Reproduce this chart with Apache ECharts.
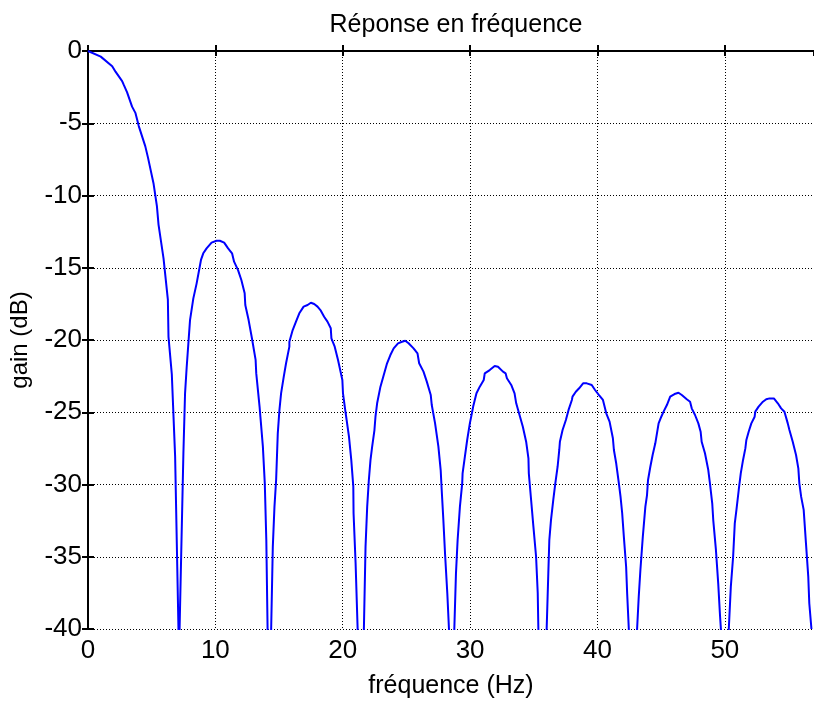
<!DOCTYPE html>
<html>
<head>
<meta charset="utf-8">
<script src="https://cdn.jsdelivr.net/npm/echarts@6/dist/echarts.min.js"></script>
<style>
  html, body { margin: 0; padding: 0; background: #fff; }
  #chart { width: 814px; height: 704px; }
</style>
</head>
<body>
<div id="chart"></div>
<script>
// Gain (dB) versus frequency (Hz), one array of [Hz, dB] points per lobe.
const mainLobe = [
  [0, 0], [0.13, 0], [1.0, -0.39], [1.9, -1.05], [2.16, -1.43], [2.68, -2.08],
  [2.81, -2.35], [3.07, -2.86], [3.46, -3.85], [3.72, -4.28], [3.98, -5.18],
  [4.5, -6.6], [4.71, -7.38], [5.15, -9.19], [5.41, -10.74], [5.54, -12.03],
  [5.93, -14.35], [6.27, -17.2], [6.32, -19.78], [6.58, -22.36], [6.84, -28.05],
  [7.1, -39.9]
];
const lobe1 = [
  [7.19, -40], [7.49, -27.84], [7.62, -23.69], [7.75, -21.85], [8.01, -18.62],
  [8.27, -17.12], [8.53, -16.08], [8.87, -14.46], [9.05, -14.0], [9.31, -13.66],
  [9.7, -13.26], [10.09, -13.13], [10.35, -13.13], [10.69, -13.26], [11.0, -13.66],
  [11.31, -14.0], [11.47, -14.58], [11.78, -15.16], [12.04, -15.85], [12.3, -16.77],
  [12.35, -17.58], [12.61, -18.62], [12.87, -19.88], [13.16, -21.38], [13.21, -22.31],
  [13.47, -24.61], [13.73, -27.38], [13.88, -29.92], [14.0, -33.84], [14.1, -40]
];
const lobe2 = [
  [14.38, -40], [14.51, -34.3], [14.64, -31.53], [14.77, -29.69], [14.9, -26.46],
  [15.03, -24.84], [15.16, -23.69], [15.37, -22.54], [15.55, -21.61], [15.81, -20.46],
  [15.81, -20.12], [16.07, -19.31], [16.33, -18.73], [16.59, -18.15], [16.93, -17.69],
  [17.24, -17.58], [17.5, -17.42], [17.76, -17.51], [18.02, -17.69], [18.28, -17.97],
  [18.54, -18.39], [18.8, -18.73], [19.06, -19.19], [19.11, -19.88], [19.37, -20.46],
  [19.63, -21.38], [19.97, -22.77], [20.02, -23.69], [20.23, -25.07], [20.49, -26.69],
  [20.67, -28.3], [20.83, -30.15], [20.85, -31.99], [21.01, -35.45], [21.17, -40]
];
const lobe3 = [
  [21.66, -40], [21.79, -34.3], [21.92, -31.53], [22.05, -29.69], [22.18, -28.3],
  [22.31, -27.38], [22.49, -26.23], [22.57, -25.31], [22.7, -24.38], [22.96, -23.23],
  [23.22, -22.42], [23.48, -21.61], [23.74, -21.04], [24.0, -20.58], [24.34, -20.23],
  [24.65, -20.12], [24.91, -20.05], [25.17, -20.23], [25.56, -20.58], [25.87, -20.92],
  [26.0, -21.61], [26.34, -22.19], [26.6, -22.88], [26.91, -23.81], [26.99, -24.5],
  [27.25, -25.77], [27.51, -27.38], [27.69, -29.0], [27.77, -30.38], [27.9, -32.46],
  [28.03, -34.76], [28.21, -37.53], [28.34, -40]
];
const lobe4 = [
  [28.76, -40], [28.89, -36.15], [29.02, -33.84], [29.2, -31.53], [29.38, -29.92],
  [29.41, -29.23], [29.59, -28.07], [29.77, -26.92], [29.98, -25.77], [30.19, -24.84],
  [30.24, -24.61], [30.5, -23.69], [30.76, -23.23], [31.07, -22.77], [31.15, -22.31],
  [31.54, -22.08], [31.93, -21.8], [32.19, -21.85], [32.58, -22.19], [32.79, -22.31],
  [32.89, -22.65], [33.23, -23.11], [33.49, -23.69], [33.62, -24.38], [33.88, -25.19],
  [34.14, -26.0], [34.4, -27.04], [34.58, -28.19], [34.61, -29.23], [34.79, -31.07],
  [34.97, -32.92], [35.18, -35.0], [35.31, -37.53], [35.36, -40]
];
const lobe5 = [
  [36.01, -40], [36.14, -36.15], [36.22, -33.84], [36.35, -32.46], [36.53, -31.07],
  [36.69, -29.92], [36.87, -28.77], [37.0, -27.61], [37.05, -27.04], [37.26, -26.23],
  [37.52, -25.54], [37.73, -24.84], [37.99, -24.15], [38.04, -23.92], [38.3, -23.58],
  [38.56, -23.34], [38.87, -23.0], [39.16, -23.0], [39.55, -23.11], [39.81, -23.46],
  [40.12, -23.81], [40.43, -24.15], [40.51, -24.27], [40.69, -25.07], [40.95, -25.65],
  [41.21, -26.8], [41.29, -27.61], [41.47, -28.53], [41.68, -29.92], [41.81, -30.84],
  [41.94, -31.99], [42.07, -33.61], [42.25, -35.69], [42.33, -37.53], [42.46, -40]
];
const lobe6 = [
  [43.11, -40], [43.24, -37.76], [43.37, -35.92], [43.56, -33.61], [43.76, -31.53],
  [43.89, -30.73], [43.97, -29.69], [44.15, -28.77], [44.33, -27.96], [44.54, -27.15],
  [44.67, -26.46], [44.8, -25.77], [45.01, -25.31], [45.19, -24.96], [45.45, -24.5],
  [45.71, -23.92], [46.05, -23.74], [46.36, -23.65], [46.62, -23.81], [47.01, -24.1],
  [47.27, -24.27], [47.4, -24.73], [47.66, -25.19], [47.92, -25.77], [48.1, -26.35],
  [48.18, -27.04], [48.44, -27.84], [48.7, -29.0], [48.83, -29.92], [49.01, -31.3],
  [49.09, -32.46], [49.3, -34.53], [49.48, -36.84], [49.61, -38.91], [49.69, -40]
];
const lobe7 = [
  [50.31, -40], [50.47, -37.07], [50.65, -35.0], [50.78, -32.69], [50.91, -31.76],
  [51.09, -30.38], [51.25, -29.23], [51.43, -28.3], [51.61, -27.5], [51.69, -26.92],
  [51.87, -26.35], [52.08, -25.77], [52.34, -25.31], [52.39, -24.96], [52.65, -24.61],
  [52.99, -24.27], [53.25, -24.1], [53.51, -24.04], [53.85, -24.04], [54.16, -24.38],
  [54.42, -24.73], [54.68, -24.96], [54.94, -25.77], [55.07, -26.23], [55.33, -27.04],
  [55.59, -27.96], [55.77, -28.88], [55.85, -29.92], [55.99, -30.84], [56.19, -31.76],
  [56.37, -34.07], [56.55, -36.38], [56.63, -38.22], [56.8, -40]
];
// Frequencies of the notches between lobes, where the gain falls far below the axis.
const notchFreqs = [7.15, 14.25, 21.4, 28.55, 35.68, 42.8, 50.0];
const notchGain = -70;

const xTicks = [0, 10, 20, 30, 40, 50];
const yTicks = [0, -5, -10, -15, -20, -25, -30, -35, -40];

const lobes = [mainLobe, lobe1, lobe2, lobe3, lobe4, lobe5, lobe6, lobe7];
const curve = [];
lobes.forEach((lobe, i) => {
  lobe.forEach(p => curve.push(p));
  if (i < notchFreqs.length) curve.push([notchFreqs[i], notchGain]);
});

const FONT = 'Liberation Sans, Arial, Helvetica, sans-serif';
const dotted = { type: [1, 2], color: '#000', width: 1 };

const chart = echarts.init(document.getElementById('chart'), null, { renderer: 'canvas' });
chart.setOption({
  animation: false,
  backgroundColor: '#fff',
  title: {
    text: 'Réponse en fréquence',
    left: 451, top: 8, textAlign: 'center',
    textStyle: { fontFamily: FONT, fontSize: 25, fontWeight: 'normal', color: '#000' }
  },
  grid: { left: 87, top: 51, bottom: 75, width: 731, containLabel: false },
  xAxis: [{
    type: 'value', min: 0, max: 57, interval: 10,
    name: 'fréquence (Hz)', nameLocation: 'middle', nameGap: 45,
    nameTextStyle: { fontFamily: FONT, fontSize: 25, color: '#000' },
    axisLine: { lineStyle: { color: '#000', width: 2 } },
    axisTick: { inside: true, length: 6, lineStyle: { color: '#000', width: 2 } },
    axisLabel: {
      fontFamily: FONT, fontSize: 26, color: '#000', margin: 9, showMaxLabel: false,
      formatter: v => (xTicks.indexOf(v) >= 0 ? String(v) : '')
    },
    splitLine: { show: true, lineStyle: dotted }
  }, {
    type: 'value', min: 0, max: 57, interval: 10, position: 'top',
    axisLine: { show: true, lineStyle: { color: '#000', width: 2 } },
    axisTick: { inside: true, length: 5, lineStyle: { color: '#000', width: 2 } },
    axisLabel: { show: false }, splitLine: { show: false }
  }],
  yAxis: [{
    type: 'value', min: -40, max: 0, interval: 5,
    name: 'gain (dB)', nameLocation: 'middle', nameGap: 56, nameRotate: 90,
    nameTextStyle: { fontFamily: FONT, fontSize: 24, color: '#000' },
    axisLine: { show: true, lineStyle: { color: '#000', width: 2 } },
    axisTick: { show: true, inside: true, length: 6, lineStyle: { color: '#000', width: 2 } },
    axisLabel: {
      fontFamily: FONT, fontSize: 26, color: '#000', margin: 6,
      formatter: v => (yTicks.indexOf(v) >= 0 ? String(v) : '')
    },
    splitLine: { show: true, lineStyle: dotted }
  }, {
    type: 'value', min: -40, max: 0, interval: 5, position: 'right',
    axisLine: { show: true, lineStyle: { color: '#000', width: 2 } },
    axisTick: { show: true, inside: true, length: 6, lineStyle: { color: '#000', width: 2 } },
    axisLabel: { show: false }, splitLine: { show: false }
  }],
  series: [{
    type: 'line',
    data: curve,
    xAxisIndex: 0, yAxisIndex: 0,
    showSymbol: false, symbol: 'none',
    clip: true,
    lineStyle: { color: '#0000ff', width: 2 },
    z: 5
  }]
});
</script>
</body>
</html>
